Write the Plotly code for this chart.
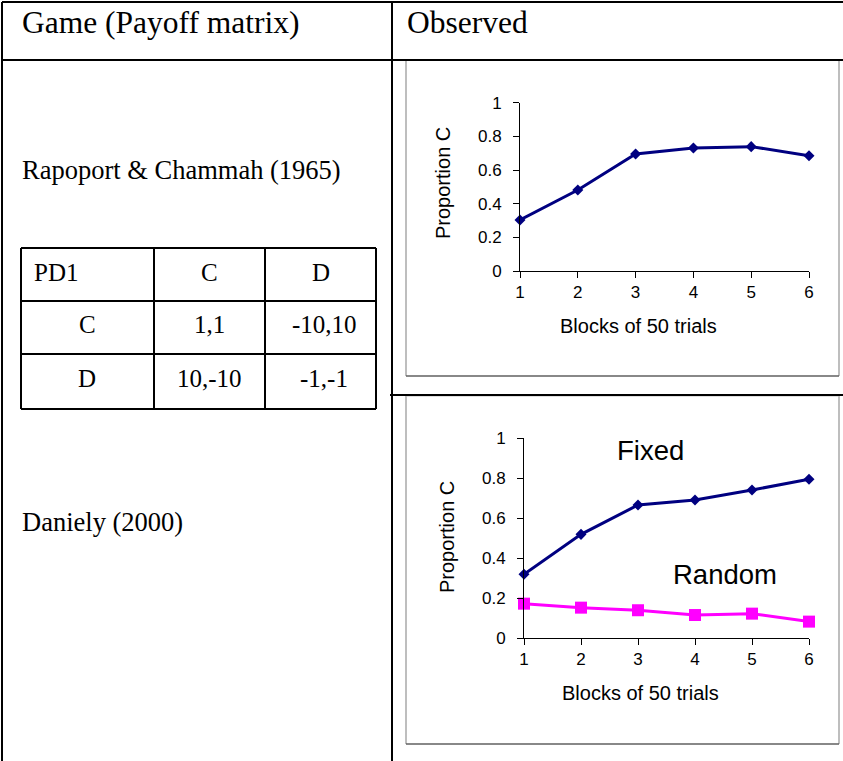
import plotly.graph_objects as go

W, H = 843, 761

# ---- data ----
blocks = [1, 2, 3, 4, 5, 6]
rapoport_c = [0.303, 0.481, 0.695, 0.731, 0.739, 0.685]
daniely_fixed = [0.319, 0.519, 0.666, 0.691, 0.741, 0.795]
daniely_random = [0.172, 0.152, 0.139, 0.115, 0.122, 0.082]
y_ticks = [0, 0.2, 0.4, 0.6, 0.8, 1]
y_tick_labels = ["0", "0.2", "0.4", "0.6", "0.8", "1"]

header_left = "Game (Payoff matrix)"
header_right = "Observed"
game1 = "Rapoport & Chammah (1965)"
game2 = "Daniely (2000)"
payoff_cols = ["PD1", "C", "D"]
payoff_rows = [["C", "1,1", "-10,10"], ["D", "10,-10", "-1,-1"]]


def fx(x):
    return x / W


def fy(y):
    return 1 - y / H


fig = go.Figure()

navy = "#000080"
magenta = "#FF00FF"

fig.add_trace(go.Scatter(x=blocks, y=rapoport_c, mode="lines+markers",
                         line=dict(color=navy, width=3),
                         marker=dict(symbol="diamond", size=8.5, color=navy),
                         cliponaxis=False, xaxis="x", yaxis="y", showlegend=False))
fig.add_trace(go.Scatter(x=blocks, y=daniely_fixed, mode="lines+markers",
                         line=dict(color=navy, width=3),
                         marker=dict(symbol="diamond", size=8.5, color=navy),
                         cliponaxis=False, xaxis="x2", yaxis="y2", showlegend=False))
fig.add_trace(go.Scatter(x=blocks, y=daniely_random, mode="lines+markers",
                         line=dict(color=magenta, width=3),
                         marker=dict(symbol="square", size=12, color=magenta),
                         cliponaxis=False, xaxis="x2", yaxis="y2", showlegend=False))

tickfont = dict(family="Liberation Sans, Arial", size=17, color="black")


def xaxis(dom, anchor):
    return dict(domain=dom, range=[1, 6], anchor=anchor, showline=True, linecolor="black",
                linewidth=1, ticks="outside", ticklen=6, tickcolor="black", tickwidth=1,
                tickvals=blocks, tickfont=tickfont, showgrid=False, zeroline=False,
                ticklabelstandoff=0, fixedrange=True, automargin=False)


def yaxis(dom, anchor):
    return dict(domain=dom, range=[0, 1], anchor=anchor, showline=True, linecolor="black",
                linewidth=1, ticks="outside", ticklen=6, tickcolor="black", tickwidth=1,
                tickvals=y_ticks, ticktext=y_tick_labels, tickfont=tickfont,
                showgrid=False, zeroline=False, ticklabelstandoff=8, fixedrange=True,
                automargin=False)


fig.update_layout(
    width=W, height=H, autosize=False,
    margin=dict(l=0, r=0, t=0, b=0, pad=0, autoexpand=False),
    showlegend=False,
    paper_bgcolor="white", plot_bgcolor="white",
    xaxis=xaxis([fx(520), fx(809)], "y"),
    yaxis=yaxis([fy(271), fy(102.7)], "x"),
    xaxis2=xaxis([fx(524), fx(809)], "y2"),
    yaxis2=yaxis([fy(638), fy(438.3)], "x2"),
)

shapes = []


def line(x0, y0, x1, y1, color="black", width=2):
    shapes.append(dict(type="line", xref="paper", yref="paper",
                       x0=fx(x0), y0=fy(y0), x1=fx(x1), y1=fy(y1),
                       line=dict(color=color, width=width)))


# gray chart frames
for (y0, y1) in [(60, 376), (396, 744)]:
    line(406, y0, 406, y1, "#a8a8a8", 1.5)
    line(839, y0, 839, y1, "#a8a8a8", 1.5)
    line(406, y1, 839, y1, "#606060", 1.5)
    line(406, y0, 839, y0, "#c0c0c0", 1)

# outer table lines
line(2, 2, 843, 2)
line(2, 2, 2, 761)
line(2, 60, 843, 60)
line(392, 2, 392, 761)
line(390, 395, 843, 395)

# payoff table
for xv in [21, 154, 265, 376]:
    line(xv, 248, xv, 409)
for yv in [248, 301, 354, 409]:
    line(21, yv, 376, yv)

fig.update_layout(shapes=shapes)

anns = []
serif = "Liberation Serif, Times New Roman"
sans = "Liberation Sans, Arial"


def text(t, x, y, size, family=serif, xanchor="left"):
    anns.append(dict(text=t, x=fx(x), y=fy(y), xref="paper", yref="paper",
                     xanchor=xanchor, yanchor="middle", showarrow=False,
                     font=dict(family=family, size=size, color="black")))


text(header_left, 20, 23, 31.5)
text(header_right, 405, 23, 31.5)
text(game1, 20, 170, 26.5)
text(game2, 20, 522, 26.5)

# payoff cells
text(payoff_cols[0], 32, 272, 25)
text(payoff_cols[1], 209, 272, 25, xanchor="center")
text(payoff_cols[2], 321, 272, 25, xanchor="center")
for r, yv in zip(payoff_rows, [325, 379]):
    text(r[0], 87, yv, 25, xanchor="center")
    text(r[1], 209, yv, 25, xanchor="center")
    text(r[2], 324, yv, 25, xanchor="center")

# chart labels
text("Blocks of 50 trials", 638, 326, 20, sans, "center")
text("Blocks of 50 trials", 640, 693, 20, sans, "center")
anns.append(dict(text="Proportion C", x=fx(443), y=fy(183), xref="paper", yref="paper",
                 textangle=-90, showarrow=False, xanchor="center", yanchor="middle",
                 font=dict(family=sans, size=20, color="black")))
anns.append(dict(text="Proportion C", x=fx(447), y=fy(537), xref="paper", yref="paper",
                 textangle=-90, showarrow=False, xanchor="center", yanchor="middle",
                 font=dict(family=sans, size=20, color="black")))
text("Fixed", 650, 451, 27.5, sans, "center")
text("Random", 725, 574, 27.5, sans, "center")

fig.update_layout(annotations=anns)

fig.write_html(
    "out.html",
    config={"displayModeBar": False, "responsive": False},
    post_script=(
        "document.documentElement.style.overflow='hidden';"
        "document.body.style.margin='0';"
        "var d=document.getElementById('{plot_id}');"
        "d.style.position='fixed';d.style.left='0px';d.style.top='0px';"
    ),
)
